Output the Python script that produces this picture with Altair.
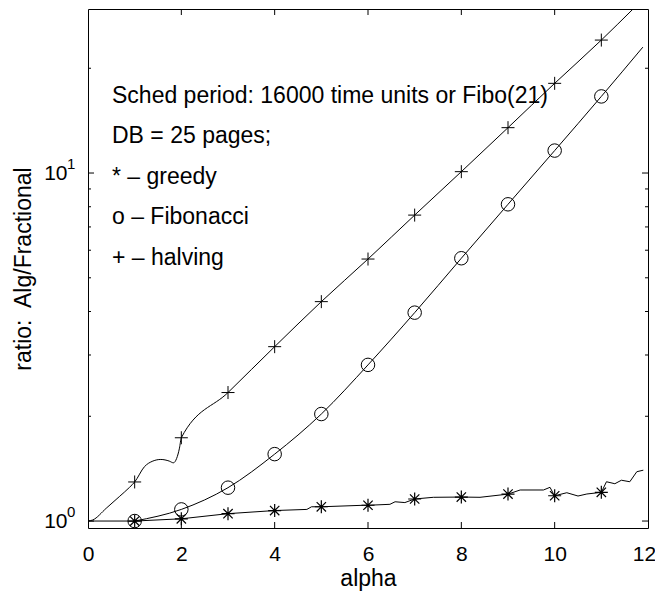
import altair as alt
import pandas as pd

# ---------------- data ----------------
halving_x = [0, 0.1, 0.39, 0.67, 0.89, 1, 1.21, 1.39, 1.56, 1.74, 1.83, 1.90, 1.96,
             2, 3, 4, 5, 6, 7, 8, 9, 10, 11, 11.68]
halving_y = [1.0, 1.007, 1.088, 1.175, 1.25, 1.295, 1.433, 1.487, 1.503, 1.487, 1.47,
             1.514, 1.62, 1.735, 2.34, 3.17, 4.27, 5.66, 7.57, 10.09, 13.5, 18.1, 24.1, 29.6]

fibo_x = [1, 2, 3, 4, 5, 6, 7, 8, 9, 10, 11, 11.89]
fibo_y = [1.0, 1.08, 1.247, 1.557, 2.03, 2.81, 3.97, 5.69, 8.13, 11.6, 16.6, 23.0]

greedy_x = [0, 1, 2, 3, 4, 4.69, 4.79, 5, 5.9, 6, 6.47, 6.58, 6.79, 7, 7.4, 8, 8.4,
            9, 9.26, 9.76, 9.9, 9.97, 10, 10.26, 10.5, 10.69, 11, 11.11, 11.29,
            11.43, 11.61, 11.76, 11.9]
greedy_y = [1.0, 1.0, 1.015, 1.05, 1.072, 1.08, 1.099, 1.099, 1.11, 1.11, 1.117,
            1.136, 1.13, 1.157, 1.17, 1.172, 1.17, 1.195, 1.228, 1.228, 1.25, 1.20,
            1.182, 1.206, 1.18, 1.196, 1.209, 1.297, 1.28, 1.31, 1.297, 1.386, 1.40]

marker_x = [1, 2, 3, 4, 5, 6, 7, 8, 9, 10, 11]
halving_marker_y = [1.295, 1.735, 2.34, 3.17, 4.27, 5.66, 7.57, 10.09, 13.5, 18.1, 24.1]
fibo_marker_y = [1.0, 1.08, 1.247, 1.557, 2.03, 2.81, 3.97, 5.69, 8.13, 11.6, 16.6]
greedy_marker_y = [1.0, 1.015, 1.05, 1.072, 1.099, 1.11, 1.157, 1.172, 1.195, 1.182, 1.209]

x_tick_labels = [0, 2, 4, 6, 8, 10, 12]
x_inner_ticks = [2, 4, 6, 8, 10]
y_major = [1, 10]
y_exponents = ["0", "1"]
y_minor = [2, 3, 4, 5, 6, 7, 8, 9, 20]

notes = [
    "Sched period: 16000 time units or Fibo(21)",
    "DB = 25 pages;",
    "* \u2013 greedy",
    "o \u2013 Fibonacci",
    "+ \u2013 halving",
]

# ---------------- chart ----------------
FONT = "Liberation Sans"
W, H = 560, 519

xs = alt.Scale(domain=[0, 12], nice=False, zero=False)
ys = alt.Scale(type="log", domain=[0.955, 29.6], nice=False)

xaxis = alt.Axis(values=x_tick_labels, ticks=False, domain=False, grid=False,
                 labelFont=FONT, labelFontSize=21, labelColor="black",
                 labelPadding=15, labelFlush=False,
                 labelOffset={"condition": {"test": "datum.value == 12", "value": -4}, "value": 0},
                 title="alpha", titleFont=FONT, titleFontSize=23,
                 titleFontWeight="normal", titleColor="black", titlePadding=3)
yaxis = alt.Axis(values=y_major, ticks=False, domain=False, grid=False,
                 labelExpr="'10'", labelFont=FONT, labelFontSize=21,
                 labelColor="black", labelPadding=21, labelFlush=False,
                 title="ratio:\u00a0 Alg/Fractional", titleFont=FONT,
                 titleFontSize=23, titleFontWeight="normal",
                 titleColor="black", titlePadding=8)


def X(f):
    return alt.X(f, type="quantitative", scale=xs, axis=xaxis)


def Y(f):
    return alt.Y(f, type="quantitative", scale=ys, axis=yaxis)


df_h = pd.DataFrame({"x": halving_x, "y": halving_y})
df_f = pd.DataFrame({"x": fibo_x, "y": fibo_y})
df_g = pd.DataFrame({"x": greedy_x, "y": greedy_y})
df_m = pd.DataFrame({"x": marker_x, "h": halving_marker_y,
                     "f": fibo_marker_y, "g": greedy_marker_y})

line_h = alt.Chart(df_h).mark_line(color="black", strokeWidth=1, clip=True,
                                   interpolate="monotone").encode(x=X("x"), y=Y("y"))
line_f = alt.Chart(df_f).mark_line(color="black", strokeWidth=1, clip=True,
                                   interpolate="monotone").encode(x=X("x"), y=Y("y"))
line_g = alt.Chart(df_g).mark_line(color="black", strokeWidth=1, clip=True,
                                   interpolate="linear").encode(x=X("x"), y=Y("y"))

plus_path = "M-1,0L1,0M0,-1L0,1"
star_path = "M-1,0L1,0M0,-1L0,1M-0.72,-0.72L0.72,0.72M-0.72,0.72L0.72,-0.72"

pts_h = alt.Chart(df_m).mark_point(shape=plus_path, size=169, filled=False,
                                   stroke="black", strokeWidth=1, opacity=1).encode(x=X("x"), y=Y("h"))
pts_f = alt.Chart(df_m).mark_point(shape="circle", size=182, filled=False,
                                   stroke="black", strokeWidth=1, opacity=1).encode(x=X("x"), y=Y("f"))
pts_g = alt.Chart(df_m).mark_point(shape=star_path, size=169, filled=False,
                                   stroke="black", strokeWidth=1.2, opacity=1).encode(x=X("x"), y=Y("g"))

df_ymaj = pd.DataFrame({"v": y_major, "e": y_exponents})
df_ymin = pd.DataFrame({"v": y_minor})
df_xt = pd.DataFrame({"v": x_inner_ticks})

rule_kw = dict(color="black", strokeWidth=1)
ticks = [
    alt.Chart(df_ymaj).mark_rule(**rule_kw).encode(y=Y("v"), x=alt.value(0), x2=alt.value(6)),
    alt.Chart(df_ymaj).mark_rule(**rule_kw).encode(y=Y("v"), x=alt.value(W), x2=alt.value(W - 6)),
    alt.Chart(df_ymin).mark_rule(**rule_kw).encode(y=Y("v"), x=alt.value(0), x2=alt.value(3)),
    alt.Chart(df_ymin).mark_rule(**rule_kw).encode(y=Y("v"), x=alt.value(W), x2=alt.value(W - 3)),
    alt.Chart(df_xt).mark_rule(**rule_kw).encode(x=X("v"), y=alt.value(H), y2=alt.value(H - 6)),
    alt.Chart(df_xt).mark_rule(**rule_kw).encode(x=X("v"), y=alt.value(0), y2=alt.value(6)),
]

sup = alt.Chart(df_ymaj).mark_text(align="left", baseline="middle", font=FONT,
                                   fontSize=15, color="black", dy=-9).encode(
    y=Y("v"), x=alt.value(-21), text="e:N")

note_y = [93.5, 134, 174.5, 215, 255.5]
note_layers = []
for t, yy in zip(notes, note_y):
    note_layers.append(
        alt.Chart(pd.DataFrame({"t": [t]})).mark_text(
            align="left", baseline="alphabetic", font=FONT, fontSize=23,
            color="black").encode(x=alt.value(24), y=alt.value(yy), text="t:N"))

chart = alt.layer(line_h, line_f, line_g, pts_h, pts_f, pts_g, *ticks, sup,
                  *note_layers).properties(
    width=W, height=H,
    autosize=alt.AutoSizeParams(type="none"),
    padding={"left": 80, "top": 1, "right": 7, "bottom": 64},
    background="white",
).configure_view(stroke="black", strokeWidth=1).configure_text(font=FONT)

chart.save("out.html", embed_options={"renderer": "svg", "actions": False})
